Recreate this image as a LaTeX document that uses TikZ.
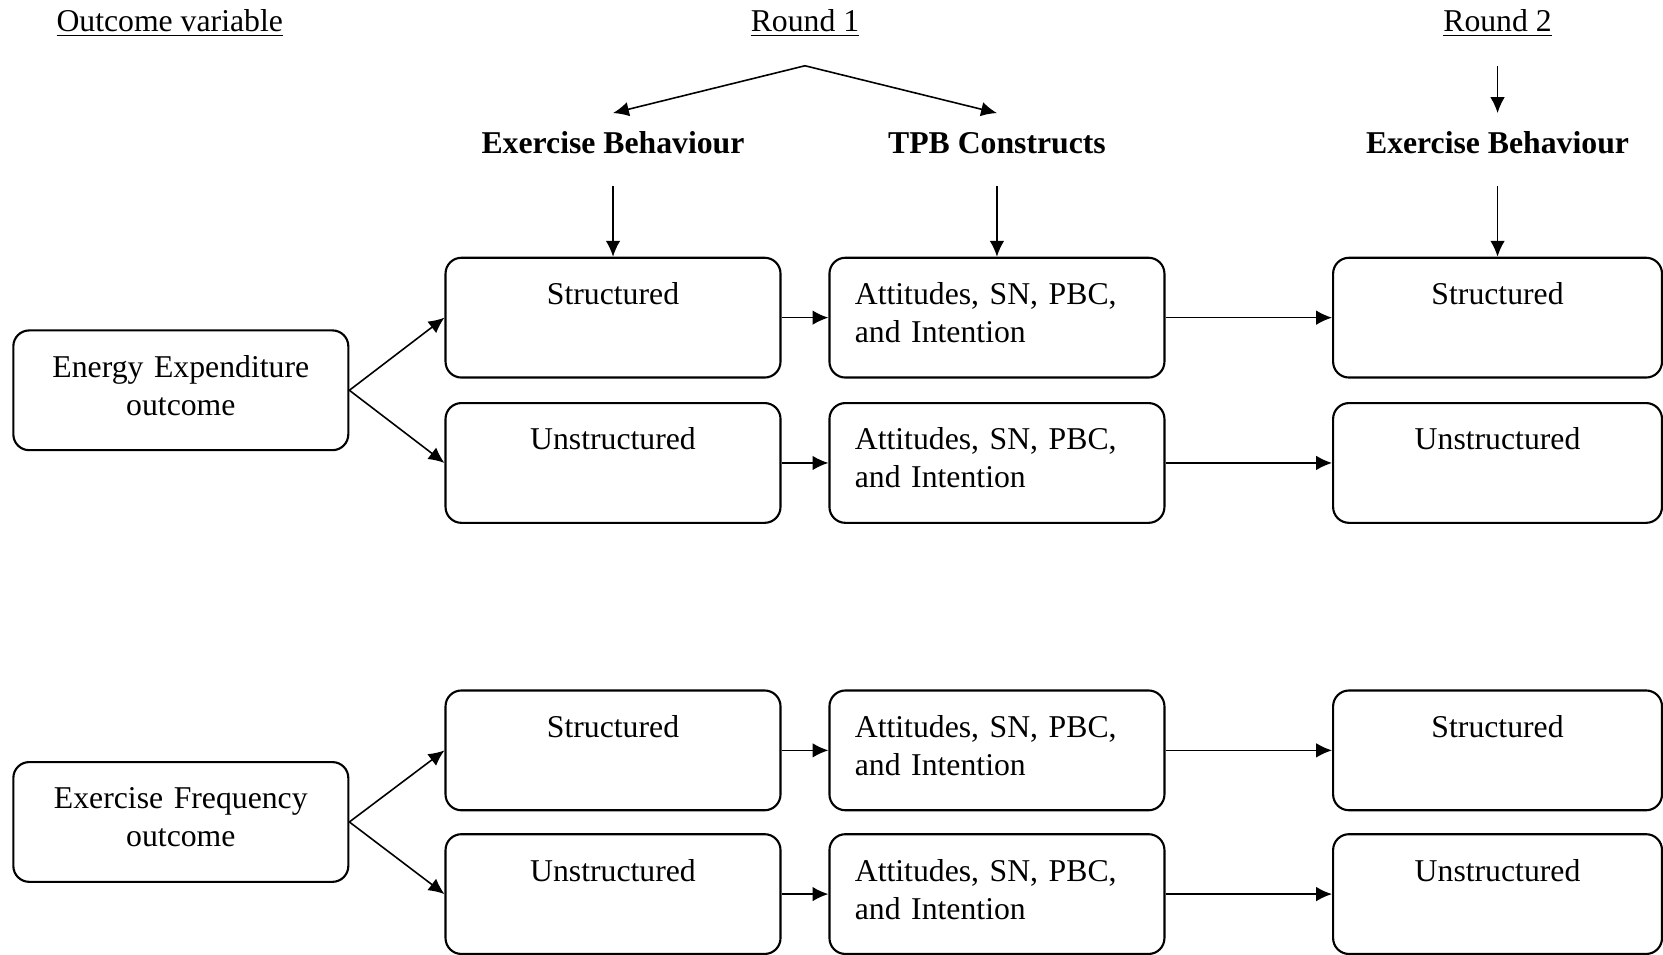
\documentclass[tikz,border=0pt]{standalone}
\usepackage{fontspec}
\setmainfont{Liberation Serif}
\usetikzlibrary{positioning}
\usetikzlibrary{arrows.meta}
\tikzset{box/.style={draw,thick,rounded corners=6pt,inner xsep=9.6pt,inner ysep=0pt,
    text width=107.5pt,text height=17.7pt,text depth=27.6pt}}
\tikzset{head/.style={font=\fontsize{12}{14.4}\selectfont\bfseries,inner sep=0pt,
    text height=15.2pt,text depth=12pt,anchor=base}}
\tikzset{arr/.style={semithick,-{Latex[length=6pt,width=5.5pt]}}}

\begin{document}
\begin{tikzpicture}[x=0.0141cm,y=-0.0141cm,font=\fontsize{12}{14.4}\selectfont]
  \useasboundingbox (0,0) rectangle (1568,900);
  % titles
  \node (outvar) at (160,22) {\underline{Outcome variable}};
  \node (round1) at (759,22) {\underline{Round 1}};
  \node (round2) at (1412,22) {\underline{Round 2}};
  \coordinate (fork) at (759,62);
  \coordinate (r2top) at (1412,62);
  \node[head] (ebone) at (578,145) {Exercise Behaviour};
  \node[head] (tpbhead) at (940,145) {TPB Constructs};
  \node[head] (ebtwo) at (1412,145) {Exercise Behaviour};
  \draw[arr] (fork) -- (ebone.north);
  \draw[arr] (fork) -- (tpbhead.north);
  \draw[arr] (r2top) -- (ebtwo.north);
  % outcome boxes
  \node[box,align=center] (energy) at (170.5,368) {Energy Expenditure\\outcome};
  \node[box,align=center] (freq) at (170.5,775) {Exercise Frequency\\outcome};
  % round 1 and round 2
  \foreach \y/\lab/\nm in {299.5/Structured/1,436.5/Unstructured/2,707.5/Structured/3,843/Unstructured/4} {
    \node[box,align=center] (beh\nm) at (578,\y) {\lab};
    \node[box,align=left] (tpb\nm) at (940,\y) {Attitudes, SN, PBC,\\and Intention};
    \node[box,align=center,text width=105.2pt] (rtwo\nm) at (1412,\y) {\lab};
    \draw[arr] (beh\nm) -- (tpb\nm);
    \draw[arr] (tpb\nm) -- (rtwo\nm);
  }
  \draw[arr] (ebone.south) -- (beh1.north);
  \draw[arr] (tpbhead.south) -- (tpb1.north);
  \draw[arr] (ebtwo.south) -- (rtwo1.north);
  \draw[arr] (energy.east) -- (beh1.west);
  \draw[arr] (energy.east) -- (beh2.west);
  \draw[arr] (freq.east) -- (beh3.west);
  \draw[arr] (freq.east) -- (beh4.west);
\end{tikzpicture}
\end{document}
